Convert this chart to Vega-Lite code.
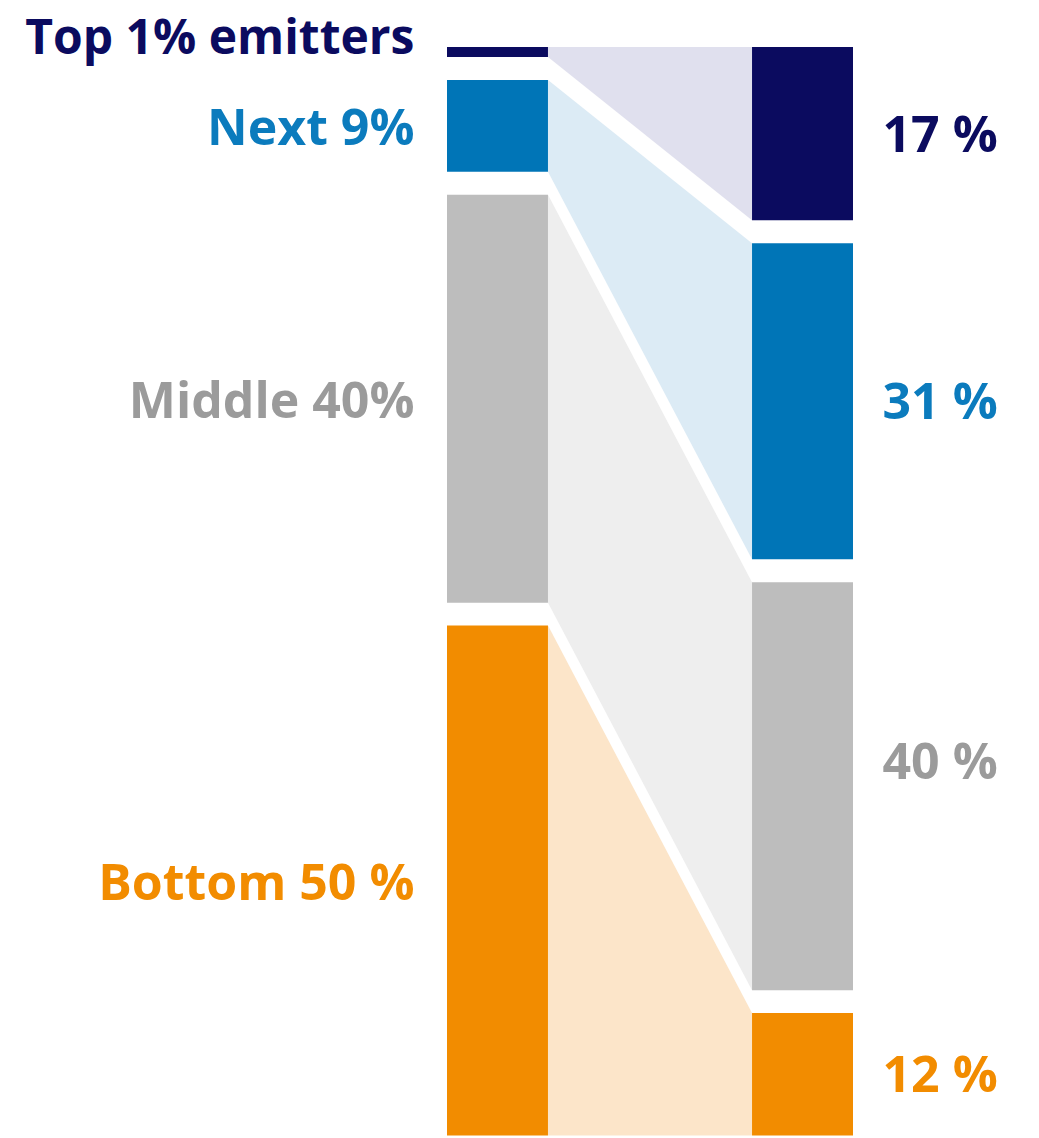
{
  "$schema": "https://vega.github.io/schema/vega-lite/v6.json",
  "width": 1039,
  "height": 1138,
  "autosize": {"type": "fit", "contains": "padding"},
  "padding": 0,
  "background": "white",
  "config": {"view": {"stroke": null}, "text": {"font": "Open Sans", "fontWeight": "bold", "fontSize": 50}},
  "data": {
    "values": [
      {"side": "Population", "group": "Top 1%", "order": 1, "value": 1, "label": "Top 1% emitters"},
      {"side": "Population", "group": "Next 9%", "order": 2, "value": 9, "label": "Next 9%"},
      {"side": "Population", "group": "Middle 40%", "order": 3, "value": 40, "label": "Middle 40%"},
      {"side": "Population", "group": "Bottom 50%", "order": 4, "value": 50, "label": "Bottom 50 %"},
      {"side": "Emissions", "group": "Top 1%", "order": 1, "value": 17, "label": "17 %"},
      {"side": "Emissions", "group": "Next 9%", "order": 2, "value": 31, "label": "31 %"},
      {"side": "Emissions", "group": "Middle 40%", "order": 3, "value": 40, "label": "40 %"},
      {"side": "Emissions", "group": "Bottom 50%", "order": 4, "value": 12, "label": "12 %"}
    ]
  },
  "transform": [
    {"stack": "value", "groupby": ["side"], "sort": [{"field": "order", "order": "ascending"}], "as": ["s0", "s1"]},
    {"calculate": "datum.s0 + (datum.order - 1) * 2.25", "as": "y0"},
    {"calculate": "datum.s1 + (datum.order - 1) * 2.25", "as": "y1"},
    {"calculate": "(datum.y0 + datum.y1) / 2", "as": "ymid"}
  ],
  "resolve": {"scale": {"x": "independent", "color": "independent", "fill": "independent"}},
  "layer": [
    {
      "mark": {"type": "area", "interpolate": "linear"},
      "encoding": {
        "x": {"field": "side", "type": "nominal", "scale": {"type": "point", "domain": ["Population", "Emissions"], "range": [548, 752], "padding": 0}, "axis": null},
        "y": {"field": "y0", "type": "quantitative", "stack": null, "scale": {"domain": [-4.6, 107], "reverse": true, "zero": false, "nice": false}, "axis": null},
        "y2": {"field": "y1"},
        "fill": {"field": "group", "type": "nominal", "scale": {"domain": ["Top 1%", "Next 9%", "Middle 40%", "Bottom 50%"], "range": ["#e0e0ee", "#dcebf5", "#eeeeee", "#fce5c9"]}, "legend": null},
        "detail": {"field": "group"}
      }
    },
    {
      "mark": {"type": "rect"},
      "encoding": {
        "x": {"field": "side", "type": "nominal", "scale": {"type": "band", "domain": ["Population", "Emissions"], "range": [447, 853], "paddingInner": 0.669, "paddingOuter": 0}, "axis": null},
        "y": {"field": "y0", "type": "quantitative", "scale": {"domain": [-4.6, 107], "reverse": true, "zero": false, "nice": false}, "axis": null},
        "y2": {"field": "y1"},
        "color": {"field": "group", "type": "nominal", "scale": {"domain": ["Top 1%", "Next 9%", "Middle 40%", "Bottom 50%"], "range": ["#0b0b5f", "#0075b7", "#bdbdbd", "#f28c00"]}, "legend": null}
      }
    },
    {
      "transform": [{"filter": "datum.side == 'Population' && datum.order > 1"}],
      "mark": {"type": "text", "align": "right", "baseline": "middle", "dx": -83, "dy": 4},
      "encoding": {
        "x": {"field": "side", "type": "nominal", "scale": {"type": "band", "domain": ["Population", "Emissions"], "range": [447, 853], "paddingInner": 0.669, "paddingOuter": 0}, "axis": null},
        "y": {"field": "ymid", "type": "quantitative", "scale": {"domain": [-4.6, 107], "reverse": true, "zero": false, "nice": false}, "axis": null},
        "text": {"field": "label"},
        "color": {"field": "group", "type": "nominal", "scale": {"domain": ["Top 1%", "Next 9%", "Middle 40%", "Bottom 50%"], "range": ["#0b0b5f", "#0b7bbd", "#9b9b9b", "#f28c00"]}, "legend": null}
      }
    },
    {
      "transform": [{"filter": "datum.side == 'Population' && datum.order == 1"}],
      "mark": {"type": "text", "align": "right", "baseline": "middle", "dx": -83, "dy": -12, "fontSize": 48},
      "encoding": {
        "x": {"field": "side", "type": "nominal", "scale": {"type": "band", "domain": ["Population", "Emissions"], "range": [447, 853], "paddingInner": 0.669, "paddingOuter": 0}, "axis": null},
        "y": {"field": "ymid", "type": "quantitative", "scale": {"domain": [-4.6, 107], "reverse": true, "zero": false, "nice": false}, "axis": null},
        "text": {"field": "label"},
        "color": {"field": "group", "type": "nominal", "scale": {"domain": ["Top 1%", "Next 9%", "Middle 40%", "Bottom 50%"], "range": ["#0b0b5f", "#0b7bbd", "#9b9b9b", "#f28c00"]}, "legend": null}
      }
    },
    {
      "transform": [{"filter": "datum.side == 'Emissions' && datum.order != 3"}],
      "mark": {"type": "text", "align": "left", "baseline": "middle", "dx": 80, "dy": 3},
      "encoding": {
        "x": {"field": "side", "type": "nominal", "scale": {"type": "band", "domain": ["Population", "Emissions"], "range": [447, 853], "paddingInner": 0.669, "paddingOuter": 0}, "axis": null},
        "y": {"field": "ymid", "type": "quantitative", "scale": {"domain": [-4.6, 107], "reverse": true, "zero": false, "nice": false}, "axis": null},
        "text": {"field": "label"},
        "color": {"field": "group", "type": "nominal", "scale": {"domain": ["Top 1%", "Next 9%", "Middle 40%", "Bottom 50%"], "range": ["#0b0b5f", "#0b7bbd", "#9b9b9b", "#f28c00"]}, "legend": null}
      }
    },
    {
      "transform": [{"filter": "datum.side == 'Emissions' && datum.order == 3"}],
      "mark": {"type": "text", "align": "left", "baseline": "middle", "dx": 80, "dy": -22},
      "encoding": {
        "x": {"field": "side", "type": "nominal", "scale": {"type": "band", "domain": ["Population", "Emissions"], "range": [447, 853], "paddingInner": 0.669, "paddingOuter": 0}, "axis": null},
        "y": {"field": "ymid", "type": "quantitative", "scale": {"domain": [-4.6, 107], "reverse": true, "zero": false, "nice": false}, "axis": null},
        "text": {"field": "label"},
        "color": {"field": "group", "type": "nominal", "scale": {"domain": ["Top 1%", "Next 9%", "Middle 40%", "Bottom 50%"], "range": ["#0b0b5f", "#0b7bbd", "#9b9b9b", "#f28c00"]}, "legend": null}
      }
    }
  ]
}
